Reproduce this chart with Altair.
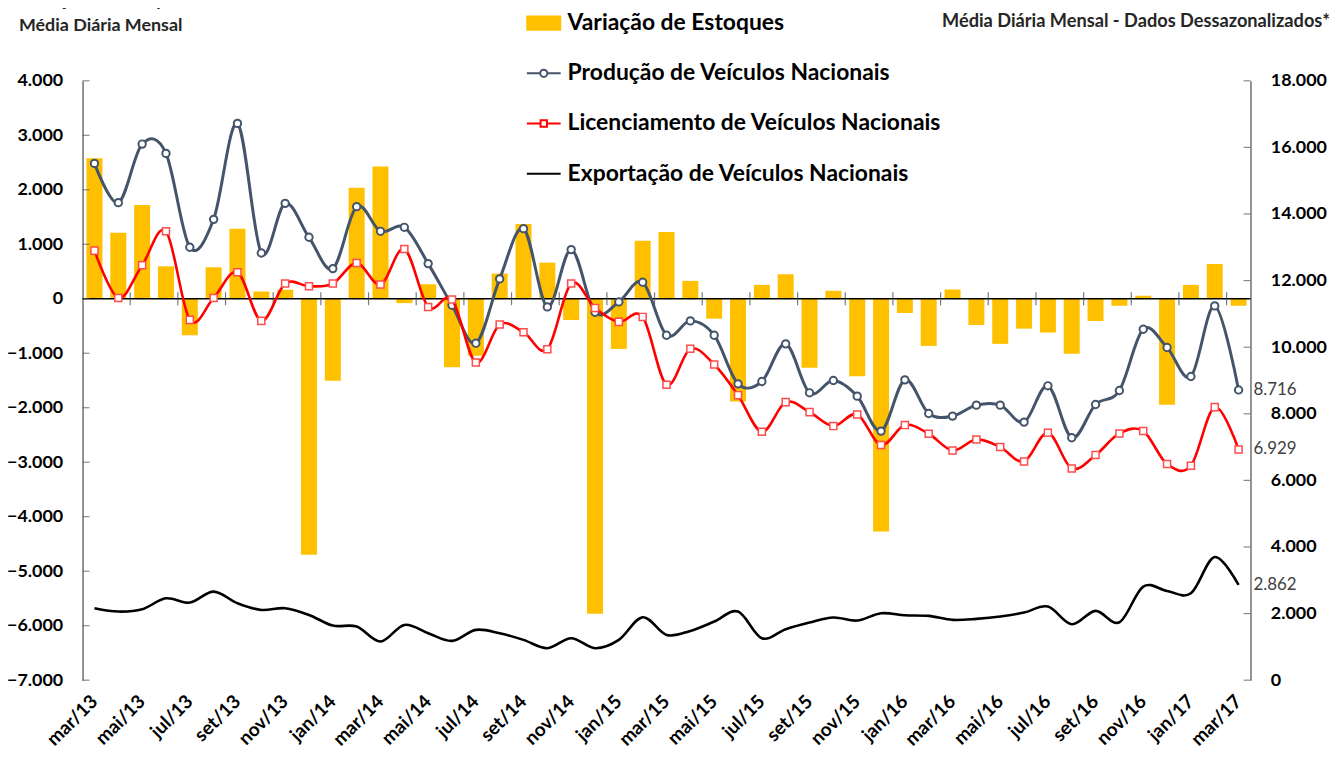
import altair as alt
import pandas as pd

# ---------------- data ----------------
meses = ["mar/13", "abr/13", "mai/13", "jun/13", "jul/13", "ago/13", "set/13", "out/13", "nov/13", "dez/13",
         "jan/14", "fev/14", "mar/14", "abr/14", "mai/14", "jun/14", "jul/14", "ago/14", "set/14", "out/14",
         "nov/14", "dez/14", "jan/15", "fev/15", "mar/15", "abr/15", "mai/15", "jun/15", "jul/15", "ago/15",
         "set/15", "out/15", "nov/15", "dez/15", "jan/16", "fev/16", "mar/16", "abr/16", "mai/16", "jun/16",
         "jul/16", "ago/16", "set/16", "out/16", "nov/16", "dez/16", "jan/17", "fev/17", "mar/17"]

estoques = [2580, 1210, 1720, 595, -670, 577, 1283, 133, 164, -4700,
            -1503, 2037, 2427, -80, 266, -1255, -1045, 462, 1370, 663,
            -390, -5780, -920, 1065, 1225, 328, -365, -1887, 255, 449,
            -1266, 146, -1424, -4270, -262, -865, 170, -481, -828, -548,
            -620, -1010, -408, -128, 55, -1947, 255, 638, -128]

producao = [15520, 14340, 16100, 15820, 13000, 13840, 16720, 12830, 14320, 13300,
            12360, 14220, 13480, 13600, 12510, 11260, 10120, 12050, 13560, 11210,
            12930, 11050, 11360, 11950, 10360, 10790, 10360, 8900, 8970, 10100,
            8630, 9000, 8530, 7480, 9020, 8010, 7930, 8260, 8260, 7750,
            8840, 7280, 8280, 8700, 10540, 9990, 9120, 11240, 8716]

licenciamento = [12900, 11480, 12460, 13480, 10820, 11480, 12250, 10790, 11910, 11830,
                 11910, 12530, 11880, 12950, 11210, 11430, 9540, 10680, 10450, 9940,
                 11910, 11180, 10760, 10910, 8870, 9950, 9480, 8560, 7460, 8350,
                 8050, 7630, 7980, 7060, 7660, 7400, 6900, 7230, 7000, 6570,
                 7430, 6360, 6760, 7410, 7480, 6490, 6440, 8200, 6929]

exportacao = [2160, 2060, 2130, 2460, 2330, 2660, 2310, 2110, 2160, 1960,
              1640, 1610, 1160, 1660, 1410, 1180, 1510, 1410, 1210, 960,
              1260, 960, 1210, 1890, 1360, 1480, 1760, 2060, 1260, 1530,
              1730, 1880, 1790, 2010, 1950, 1930, 1810, 1840, 1910, 2030,
              2210, 1680, 2080, 1740, 2810, 2680, 2610, 3700, 2862]

series = ["Variação de Estoques", "Produção de Veículos Nacionais",
          "Licenciamento de Veículos Nacionais", "Exportação de Veículos Nacionais"]

ticks_esq = [4000, 3000, 2000, 1000, 0, -1000, -2000, -3000, -4000, -5000, -6000, -7000]
ticks_dir = [0, 2000, 4000, 6000, 8000, 10000, 12000, 14000, 16000, 18000]

titulo_esq = ["Variação de Estoque", "Média Diária Mensal"]
titulo_dir = ["Produção, Licenciamento e Exportação", "Média Diária Mensal - Dados Dessazonalizados*"]

# ---------------- tables ----------------
df = pd.DataFrame({"mes": meses, "estoques": estoques, "producao": producao,
                   "licenciamento": licenciamento, "exportacao": exportacao})
df_zero = pd.DataFrame({"zero": [0]})
df_xticks = pd.DataFrame({"mes": meses[2::2], "zero": 0})
df_lt = pd.DataFrame({"v": ticks_esq})
df_rt = pd.DataFrame({"v": ticks_dir})
df_end = pd.DataFrame({"mes": [meses[-1]] * 3,
                       "v": [producao[-1], licenciamento[-1], exportacao[-1]]})
df_leg = pd.DataFrame({"serie": series})
df_one = pd.DataFrame({"k": [0]})

W, H = 1175, 603
FONT = "Lato"
FMT = "replace(format(datum.value, ','), ',', '.')"
C_PROD = "#44546A"
C_LIC = "#FF0000"
C_BAR = "#FFC000"
AX_FS = 18

x_scale = alt.Scale(paddingInner=0.33, paddingOuter=0.165)
x_enc = alt.X("mes:N", sort=meses, scale=x_scale,
              axis=alt.Axis(values=meses[::2], labelAngle=-45, labelAlign="right",
                            labelBaseline="middle", labelFont=FONT, labelFontWeight="bold",
                            labelFontSize=19, labelColor="#000000", labelPadding=18,
                            domain=False, ticks=False, title=None, labelOverlap=False))
x_plain = alt.X("mes:N", sort=meses, title=None)

yl_scale = alt.Scale(domain=[-7000, 4000], nice=False, zero=False)
yr_scale = alt.Scale(domain=[0, 18000], nice=False, zero=False)

# ---------------- left (stock variation) ----------------
bars = alt.Chart(df).mark_bar(color=C_BAR).encode(
    x=x_enc,
    y=alt.Y("estoques:Q", scale=yl_scale,
            axis=alt.Axis(orient="left", values=ticks_esq, labelExpr=FMT, title=None, grid=False,
                          ticks=False, labelPadding=20, labelFont=FONT, labelFontWeight="bold",
                          labelFontSize=AX_FS, labelColor="#000000", domainColor="#595959",
                          domainWidth=1.3)),
)
zero_line = alt.Chart(df_zero).mark_rule(color="#000000", strokeWidth=1.4).encode(
    y=alt.Y("zero:Q", title=None))
x_ticks = alt.Chart(df_xticks).mark_tick(orient="vertical", size=13, thickness=1.2,
                                          color="#404040").encode(
    x=alt.X("mes:N", sort=meses, title=None, bandPosition=0),
    xOffset=alt.value(-4),
    y=alt.Y("zero:Q", title=None))
l_ticks = alt.Chart(df_lt).mark_tick(orient="horizontal", size=7, thickness=1.2,
                                      color="#595959").encode(
    x=alt.value(3.5), y=alt.Y("v:Q", title=None))
left = alt.layer(bars, zero_line, x_ticks, l_ticks)

# ---------------- right (lines) ----------------
y_right = alt.Axis(orient="right", values=ticks_dir, labelExpr=FMT, title=None, grid=False,
                   ticks=False, labelPadding=20, labelFont=FONT, labelFontWeight="bold",
                   labelFontSize=AX_FS, labelColor="#000000", domainColor="#595959",
                   domainWidth=1.3)

exp_line = alt.Chart(df).mark_line(color="#000000", strokeWidth=2.6, interpolate="cardinal").encode(
    x=x_plain, y=alt.Y("exportacao:Q", scale=yr_scale, axis=y_right))
prod_line = alt.Chart(df).mark_line(
    color=C_PROD, strokeWidth=3, interpolate="cardinal",
    point=alt.OverlayMarkDef(filled=True, fill="white", stroke=C_PROD, strokeWidth=2,
                             size=55, opacity=1)).encode(
    x=x_plain, y=alt.Y("producao:Q", title=None))
lic_line = alt.Chart(df).mark_line(
    color=C_LIC, strokeWidth=2.6, interpolate="cardinal",
    point=alt.OverlayMarkDef(filled=True, fill="white", stroke="#FF4B4B", strokeWidth=1.5,
                             shape="square", size=50, opacity=1)).encode(
    x=x_plain, y=alt.Y("licenciamento:Q", title=None))
r_ticks = alt.Chart(df_rt).mark_tick(orient="horizontal", size=7, thickness=1.2,
                                      color="#595959").encode(
    x=alt.value(W - 3.5), y=alt.Y("v:Q", title=None))
end_labels = alt.Chart(df_end).transform_calculate(
    t="replace(format(datum.v, ','), ',', '.')"
).mark_text(align="left", baseline="middle", dx=15, font=FONT, fontSize=17,
            color="#404040").encode(
    x=x_plain, y=alt.Y("v:Q", title=None), text="t:N")

paths = [
    "M-0.83,-0.33H0.83V0.33H-0.83Z",
    "M-0.85,0H-0.18M0.18,0H0.85M-0.18,0A0.18,0.18,0,1,0,0.18,0A0.18,0.18,0,1,0,-0.18,0Z",
    "M-0.85,0H-0.16M0.16,0H0.85M-0.16,-0.16H0.16V0.16H-0.16Z",
    "M-0.85,0H0.85",
]
leg = alt.Legend(title=None, orient="none", legendX=443, legendY=-79, direction="vertical",
                 labelFont=FONT, labelFontSize=23, labelFontWeight="bold",
                 labelColor="#000000", labelLimit=700, symbolSize=1600,
                 symbolStrokeWidth=2, rowPadding=17.5, labelOffset=3, padding=0)
legend_layer = alt.Chart(df_leg).transform_filter("false").mark_point(
    filled=True, opacity=1).encode(
    shape=alt.Shape("serie:N", scale=alt.Scale(domain=series, range=paths), legend=leg),
    fill=alt.Fill("serie:N", scale=alt.Scale(domain=series,
                                             range=[C_BAR, "white", "white", "transparent"]),
                  legend=leg),
    stroke=alt.Stroke("serie:N", scale=alt.Scale(domain=series,
                                                 range=[C_BAR, C_PROD, C_LIC, "#000000"]),
                      legend=leg),
)
right = alt.layer(exp_line, prod_line, lic_line, r_ticks, end_labels, legend_layer)

# ---------------- titles ----------------
t_left = alt.Chart(df_one).mark_text(align="left", baseline="alphabetic", font=FONT,
                                     fontSize=18, fontWeight="bold", color="#262626",
                                     lineHeight=25).encode(
    x=alt.value(-64), y=alt.value(-75), text=alt.value(titulo_esq))
t_right = alt.Chart(df_one).mark_text(align="right", baseline="alphabetic", font=FONT,
                                      fontSize=18.3, fontWeight="bold", color="#262626",
                                      lineHeight=24).encode(
    x=alt.value(1255), y=alt.value(-78), text=alt.value(titulo_dir))

chart = alt.layer(left, right, t_left, t_right).resolve_scale(y="independent").properties(
    width=W, height=H,
    padding={"left": 75, "top": 71, "right": 82, "bottom": 67},
    autosize=alt.AutoSizeParams(type="none"),
    background="white",
).configure_view(stroke=None)

chart.save("out.html", embed_options={"renderer": "svg", "actions": False})
